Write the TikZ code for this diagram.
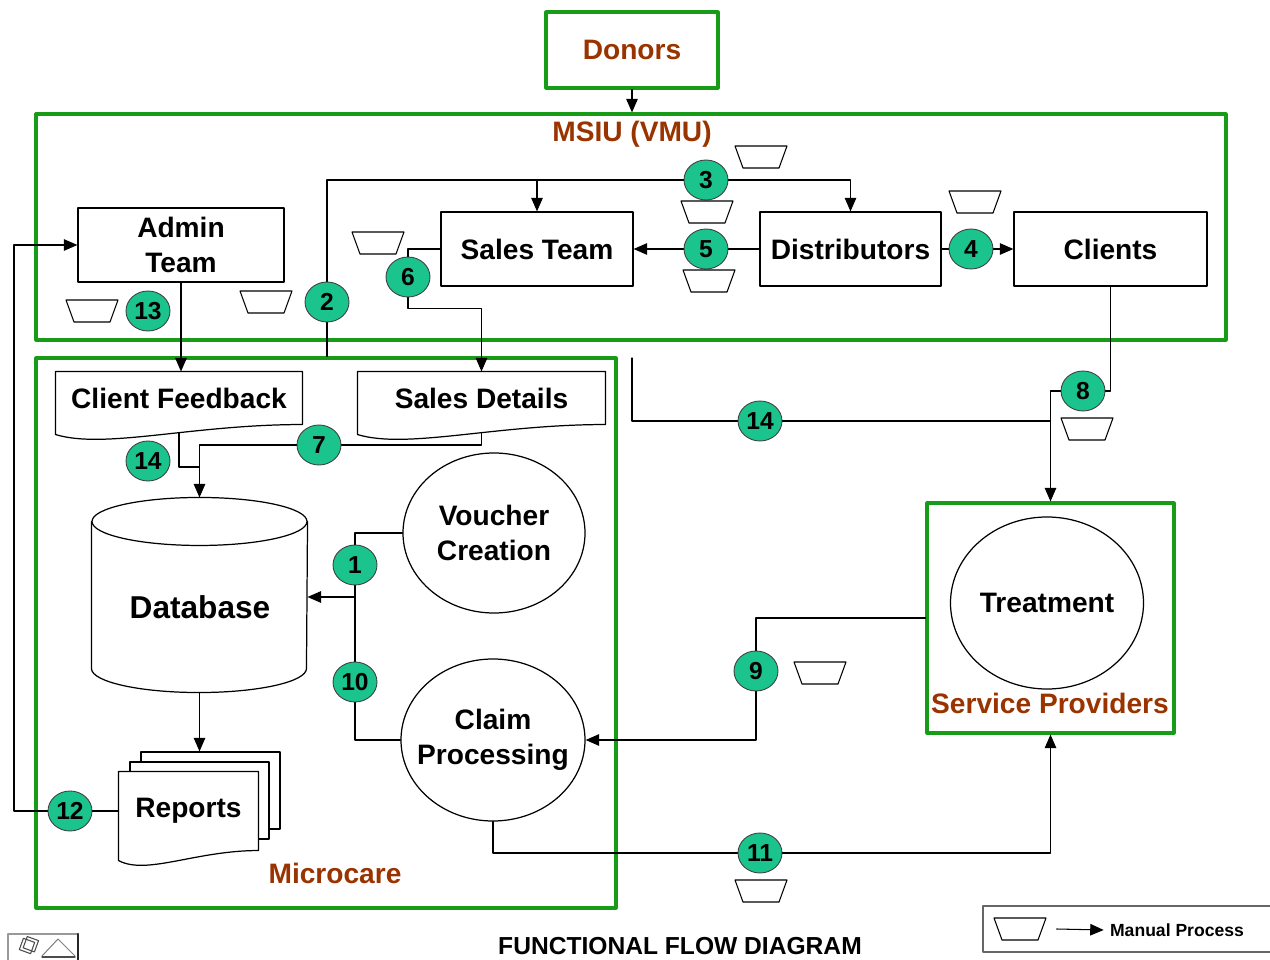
\documentclass[tikz,border=0pt]{standalone}
\usepackage{fontspec}
\setmainfont{Liberation Sans}
\usetikzlibrary{shapes.geometric,positioning,calc,arrows.meta}
\definecolor{framegreen}{RGB}{24,156,24}
\definecolor{labelbrown}{RGB}{153,51,0}
\definecolor{tagteal}{RGB}{26,196,140}
% sheet outline with a wavy lower edge
\newcommand\docsheet[1]{\draw[line width=0.7pt] ([yshift=-2mm]#1.south west) -- (#1.north west) -- (#1.north east) -- (#1.south east)
  .. controls ($(#1.south west)!0.55!(#1.south east)$) and ($(#1.south west)!0.2!(#1.south east)+(0,-5mm)$) .. ([yshift=-2mm]#1.south west);}
% manual process symbol drawn over a named spot
\newcommand\manualsym[1]{\draw[line width=0.6pt] ([xshift=-5.2mm,yshift=2.2mm]#1.center) -- ([xshift=5.2mm,yshift=2.2mm]#1.center)
  -- ([xshift=3.6mm,yshift=-2.2mm]#1.center) -- ([xshift=-3.6mm,yshift=-2.2mm]#1.center) -- cycle;}
\begin{document}
\begin{tikzpicture}[x=0.2mm, y=-0.2mm, line join=round, line cap=round, line width=0.6pt,
  >={Triangle[length=2.7mm,width=2.3mm]}, font=\bfseries\fontsize{16}{20}\selectfont,
  box/.style={draw, line width=0.7pt, inner sep=0pt, align=center},
  zone/.style={draw=framegreen, line width=1.8pt, inner sep=0pt},
  zonelabel/.style={text=labelbrown},
  bubble/.style={ellipse, draw, line width=0.7pt, inner xsep=-2.5mm, inner ysep=0pt, align=center},
  tag/.style={ellipse, draw=black!75, line width=0.5pt, fill=tagteal, minimum width=8.8mm, minimum height=8mm, inner sep=0pt, font=\bfseries\fontsize{14}{14}\selectfont},
  manual/.style={minimum width=10.4mm, minimum height=4.4mm, inner sep=0pt}]
\useasboundingbox (0,0) rectangle (1270,960);
% zones
\node[zone, minimum width=34.4mm, minimum height=15.2mm, text=labelbrown] (donors) at (632,50) {Donors};
\node[zone, minimum width=238mm, minimum height=45.2mm] (msiu) at (631,227) {};
\node[zone, minimum width=116mm, minimum height=110mm] (mc) at (326,633) {};
\node[zone, minimum width=49.4mm, minimum height=46mm] (sp) at (1050.5,618) {};
\node[zonelabel] (msiulbl) at (632,134) {MSIU (VMU)};
\node[zonelabel] (mclbl) at (335,873) {Microcare};
\node[zonelabel] (splbl) at (1050,703) {Service Providers};
% boxes
\node[box, minimum width=41.2mm, minimum height=14.8mm] (admin) at (181,245) {Admin\\Team};
\node[box, minimum width=38.4mm, minimum height=14.8mm] (sales) at (537,249) {Sales Team};
\node[box, minimum width=36.2mm, minimum height=14.8mm] (distrib) at (850.5,249) {Distributors};
\node[box, minimum width=38.6mm, minimum height=14.8mm] (clients) at (1110.5,249) {Clients};
% documents
\node[inner sep=0pt, minimum width=49.2mm, minimum height=10.4mm] (feedback) at (179,398) {Client Feedback};
\node[inner sep=0pt, minimum width=49.4mm, minimum height=10.4mm] (details) at (481.5,398) {Sales Details};
\docsheet{feedback} \docsheet{details}
\node[box, fill=white, minimum width=27.8mm, minimum height=15.4mm] (rback) at (210.5,790.5) {};
\node[box, fill=white, minimum width=27.8mm, minimum height=15.4mm] (rmid) at (199.5,800.5) {};
\node[fill=white, inner sep=0pt, minimum width=27.8mm, minimum height=15.6mm] (reports) at (188.5,811) {Reports};
\docsheet{reports}
% database
\node[minimum width=43mm, minimum height=38.8mm, inner sep=0pt] (db) at (199.5,595) {};
\draw[line width=0.7pt] ([yshift=-4.8mm]db.north) ellipse [x radius=21.5mm, y radius=4.8mm];
\draw[line width=0.7pt] ([yshift=-4.8mm]db.north west) -- ([yshift=4.8mm]db.south west)
  arc [start angle=180, end angle=360, x radius=21.5mm, y radius=4.8mm] -- ([yshift=-4.8mm]db.north east);
\node[font=\bfseries\fontsize{18}{20}\selectfont] (dblbl) at (200,607) {Database};
% processes
\node[bubble, minimum width=36.4mm, minimum height=32mm] (voucher) at (494,533) {Voucher\\Creation};
\node[bubble, minimum width=36.8mm, minimum height=32.4mm] (claim) at (493,740) {Claim\\Processing};
\node[bubble, minimum width=38.6mm, minimum height=34.4mm] (treat) at (1047,603) {Treatment};
% numbered steps
\node[tag] (t1) at (355,565) {1};
\node[tag] (t2) at (327,302) {2};
\node[tag] (t3) at (706,180) {3};
\node[tag] (t4) at (971,249) {4};
\node[tag] (t5) at (706,249) {5};
\node[tag] (t6) at (408,277) {6};
\node[tag] (t7) at (319,445) {7};
\node[tag] (t8) at (1083,391) {8};
\node[tag] (t9) at (756,671) {9};
\node[tag] (t10) at (355,682) {10};
\node[tag] (t11) at (760,853) {11};
\node[tag] (t12) at (70,811) {12};
\node[tag] (t13) at (148,311) {13};
\node[tag] (t14a) at (148,461) {14};
\node[tag] (t14b) at (760,421) {14};
\foreach \p [count=\i] in {(761,157),(707,212),(709,281),(975,202),(378,243),(92,311),(266,302),(1087,429),(820,673),(761,891)}{
  \node[manual] (m\i) at \p {};
  \manualsym{m\i}
}
% flows
\draw[->] (donors.south) -- (donors.south |- msiu.north);
\draw (t2.south) -- (t2 |- mc.north);
\draw (t2.north) |- (t3.west);
\draw[->] (t3.east) -| (distrib.north);
\draw[->] (sales.north |- t3) -- (sales.north);
\draw (distrib.west) -- (t5.east);
\draw[->] (t5.west) -- (sales.east);
\draw (distrib.east) -- (t4.west);
\draw[->] (t4.east) -- (clients.west);
\draw (sales.west) -| (t6.north);
\draw[->] (t6.south) -- ++(0,11) -| (details.north);
\draw[->] (admin.south) -- (admin.south |- feedback.north);
\coordinate (k7) at (199.5,467);
\draw ([yshift=-1.6mm]feedback.south) |- (k7);
\draw ([yshift=-1.6mm]details.south) |- (t7.east);
\draw[->] (t7.west) -| (db.north);
\coordinate (k1) at (355,597);
\draw (voucher.west) -| (t1.north);
\draw (t1.south) -- (k1);
\draw (claim.west) -| (t10.south);
\draw (t10.north) -- (k1);
\draw[->] (k1) -- (k1 -| db.east);
\draw[->] (db.south) -- (db.south |- rback.north);
\coordinate (k12) at (14,811);
\draw (reports.west) -- (t12.east);
\draw[->] (t12.west) -- (k12) |- (admin.west);
\draw (claim.south) |- (t11.west);
\draw[->] (t11.east) -| (sp.south);
\draw (sp.west) -| (t9.north);
\draw[->] (t9.south) |- (claim.east);
\draw (clients.south) |- (t8.east);
\draw[->] (t8.west) -| (sp.north);
\coordinate (k14) at (632,358); % on Microcare edge
\draw (k14) |- (t14b.west);
\draw (t14b.east) -- (t14b.east -| sp.north);
% legend and caption
\draw[black!60, line width=0.8pt] (1270,906) -| (983,952) -- (1270,952);
\node[manual] (legm) at (1020,929) {};
\manualsym{legm}
\node[font=\bfseries\fontsize{10}{12}\selectfont] (legtxt) at (1177,930) {Manual Process};
\draw[->] ([xshift=2mm]legm.east) -- (legtxt.west);
\node[font=\bfseries\fontsize{14}{16}\selectfont] (caption) at (680,946) {FUNCTIONAL FLOW DIAGRAM};
% corner widget
\draw[black!40] (8,934) rectangle (78,962);
\draw[black!85, line width=1.2pt] (78,934) -- (78,962);
\draw[black!50] (42,956) -- (58,939) -- (75,956);
\draw[black!70, line width=0.8pt] (42,957) -- (75,957);
\draw[black!70, rotate around={-20:(27,946)}] (21,940) rectangle (33,952);
\draw[black!70, rotate around={-20:(27,946)}] (24,937) rectangle (36,949);
\end{tikzpicture}
\end{document}
